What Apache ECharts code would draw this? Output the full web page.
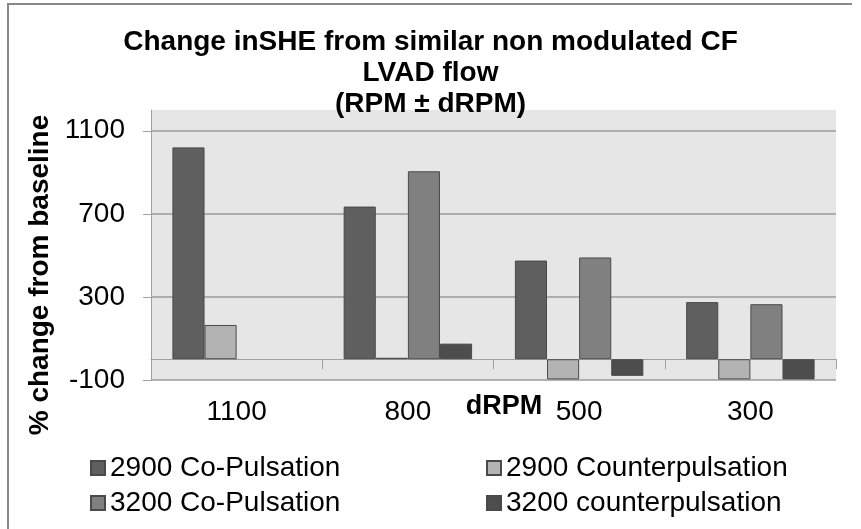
<!DOCTYPE html>
<html>
<head>
<meta charset="utf-8">
<script src="https://cdn.jsdelivr.net/npm/echarts@6/dist/echarts.min.js"></script>
<style>
  html, body { margin: 0; padding: 0; background: #fff; }
  #chart { width: 861px; height: 529px; }
</style>
</head>
<body>
<div id="chart"></div>
<script>
// dRPM categories
var categories = ["1100", "800", "500", "300"];
// % change from baseline
var coPuls2900 = [1020, 735, 475, 275];
var counter2900 = [165, 7, -97, -97];
var coPuls3200 = [null, 905, 490, 265];
var counter3200 = [null, 75, -80, -97];
var yTicks = [-100, 300, 700, 1100];

var font = "Liberation Sans, Arial, sans-serif";

var chart = echarts.init(document.getElementById("chart"));

function barSeries(name, data, color) {
  return {
    name: name,
    type: "bar",
    data: data,
    barGap: "0%",
    barCategoryGap: "25%",
    itemStyle: { color: color, borderColor: "#4a4a4a", borderWidth: 1 },
  };
}

var legendText = { fontSize: 28, color: "#000", fontFamily: font };

var option = {
  animation: false,
  backgroundColor: "#fff",
  textStyle: { fontFamily: font },
  title: {
    text: "Change inSHE from similar non modulated CF\nLVAD flow\n(RPM ± dRPM)",
    left: "center",
    top: 22,
    textStyle: { fontSize: 28, fontWeight: "bold", color: "#000", lineHeight: 31, fontFamily: font },
  },
  legend: [
    {
      data: ["2900 Co-Pulsation", "3200 Co-Pulsation"],
      orient: "vertical",
      left: 85,
      top: 449,
      itemWidth: 14,
      itemHeight: 14,
      itemGap: 7,
      itemTextGap: 5,
      icon: "rect",
      textStyle: legendText,
    },
    {
      data: ["2900 Counterpulsation", "3200 counterpulsation"],
      orient: "vertical",
      left: 481,
      top: 449,
      itemWidth: 14,
      itemHeight: 14,
      itemGap: 7,
      itemTextGap: 5,
      icon: "rect",
      textStyle: legendText,
    },
  ],
  grid: {
    left: 151,
    right: 25,
    top: 110,
    bottom: 149,
    show: true,
    backgroundColor: "#e6e6e6",
    borderWidth: 0,
  },
  xAxis: {
    type: "category",
    data: categories,
    axisLine: { onZero: true, lineStyle: { color: "#a0a0a0", width: 1 } },
    axisTick: { show: true, length: 10, lineStyle: { color: "#a0a0a0" } },
    axisLabel: { margin: 18, fontSize: 28, color: "#000", fontFamily: font },
  },
  yAxis: {
    type: "value",
    min: yTicks[0],
    max: 1200,
    interval: 400,
    axisLine: { show: true, lineStyle: { color: "#a0a0a0" } },
    axisTick: { show: true, length: 8, lineStyle: { color: "#a0a0a0" } },
    axisLabel: {
      margin: 26,
      fontSize: 28,
      color: "#000",
      showMaxLabel: false,
      fontFamily: font,
      formatter: function (v) { return String(v); },
    },
    splitLine: { show: true, showMaxLine: false, lineStyle: { color: "#9a9a9a", width: 1.5 } },
  },
  graphic: [
    {
      type: "polyline",
      shape: { points: [[8, 529], [8, 4], [852, 4]] },
      style: { stroke: "#888", lineWidth: 2, fill: null },
    },
    {
      type: "text",
      x: 40,
      y: 275,
      rotation: Math.PI / 2,
      style: {
        text: "% change from baseline",
        fontSize: 28,
        fontWeight: "bold",
        fontFamily: font,
        fill: "#000",
        align: "center",
        verticalAlign: "middle",
      },
    },
    {
      // x axis name sits between the 800 and 500 labels
      type: "text",
      x: 504,
      y: 407,
      style: {
        text: "dRPM",
        fontSize: 27,
        fontWeight: "bold",
        fontFamily: font,
        fill: "#000",
        align: "center",
        verticalAlign: "middle",
      },
    },
  ],
  series: [
    barSeries("2900 Co-Pulsation", coPuls2900, "#5f5f5f"),
    barSeries("2900 Counterpulsation", counter2900, "#b3b3b3"),
    barSeries("3200 Co-Pulsation", coPuls3200, "#808080"),
    barSeries("3200 counterpulsation", counter3200, "#4d4d4d"),
  ],
};

chart.setOption(option);
</script>
</body>
</html>
